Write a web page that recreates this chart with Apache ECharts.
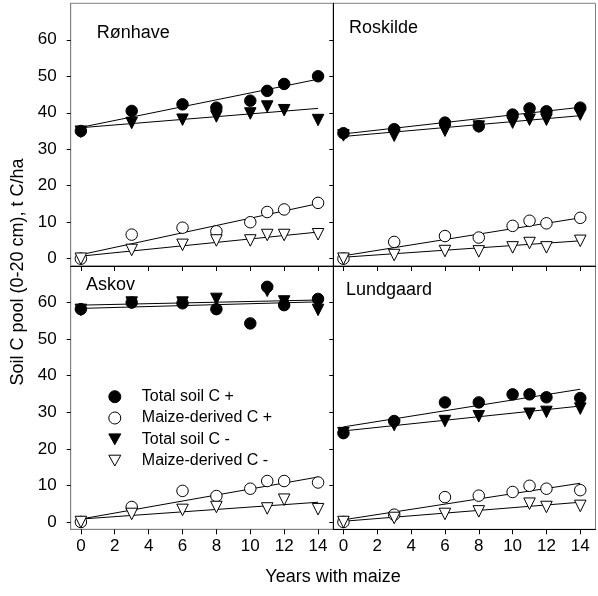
<!DOCTYPE html>
<html>
<head>
<meta charset="utf-8">
<script src="https://cdn.jsdelivr.net/npm/echarts@6/dist/echarts.min.js"></script>
<style>html,body{margin:0;padding:0;background:#fff}#c{width:598px;height:596px}</style>
</head>
<body>
<div id="c"></div>
<script>
// ---- data ----
const years = [0, 3, 6, 8, 10, 11, 12, 14];
const trendYears = [0, 14];
const xTicks = [0, 2, 4, 6, 8, 10, 12, 14];
const yTicks = [0, 10, 20, 30, 40, 50, 60];
const seriesNames = ['Total soil C +', 'Maize-derived C +', 'Total soil C -', 'Maize-derived C -'];
const panelNames = ['Rønhave', 'Roskilde', 'Askov', 'Lundgaard'];

const ronTotalPlus  = [35.0, 40.5, 42.3, 41.4, 43.3, 46.0, 47.9, 50.0];
const ronMaizePlus  = [0.0, 6.6, 8.5, 7.5, 10.0, 12.8, 13.5, 15.3];
const ronTotalMinus = [34.8, 37.2, 38.1, 39.0, 39.8, 41.7, 40.7, 38.0];
const ronMaizeMinus = [0.0, 2.4, 3.8, 5.0, 5.0, 6.5, 6.5, 6.7];
const ronTrendTotalPlus  = [36.0, 49.2];
const ronTrendMaizePlus  = [1.1, 15.1];
const ronTrendTotalMinus = [35.9, 41.2];
const ronTrendMaizeMinus = [0.7, 7.3];

const rosTotalPlus  = [34.4, 35.5, 37.3, 36.3, 39.5, 41.2, 40.4, 41.4];
const rosMaizePlus  = [0.0, 4.6, 6.2, 5.8, 9.0, 10.4, 9.7, 11.2];
const rosTotalMinus = [33.8, 33.7, 35.1, 36.2, 37.3, 38.1, 38.1, 39.5];
const rosMaizeMinus = [0.0, 1.0, 2.1, 2.0, 3.1, 4.3, 3.1, 4.9];
const rosTrendTotalPlus  = [34.2, 41.5];
const rosTrendMaizePlus  = [0.8, 11.2];
const rosTrendTotalMinus = [33.5, 39.2];
const rosTrendMaizeMinus = [0.4, 4.9];

const askTotalPlus  = [58.2, 60.0, 59.8, 58.2, 54.3, 64.3, 59.3, 61.0];
const askMaizePlus  = [0.0, 4.1, 8.5, 7.1, 9.1, 11.2, 11.2, 10.8];
const askTotalMinus = [58.0, 60.0, 60.0, 61.0, null, 63.2, 60.3, 58.0];
const askMaizeMinus = [0.0, 2.2, 3.3, 4.1, null, 3.7, 6.1, 3.5];
const askTrendTotalPlus  = [58.4, 60.2];
const askTrendMaizePlus  = [0.8, 12.3];
const askTrendTotalMinus = [59.3, 60.7];
const askTrendMaizeMinus = [0.8, 5.4];

const lunTotalPlus  = [24.3, 27.6, 32.7, 32.7, 34.9, 34.9, 34.1, 33.9];
const lunMaizePlus  = [0.0, 2.0, 6.8, 7.2, 8.2, 9.9, 9.1, 8.7];
const lunTotalMinus = [24.3, 26.5, 27.6, 28.9, null, 29.6, 30.1, 31.0];
const lunMaizeMinus = [0.0, 1.1, 2.2, 2.9, null, 5.0, 4.1, 4.4];
const lunTrendTotalPlus  = [26.0, 36.3];
const lunTrendMaizePlus  = [0.6, 10.6];
const lunTrendTotalMinus = [24.9, 31.7];
const lunTrendMaizeMinus = [0.2, 5.4];

const panels = [
  { pts: [ronTotalPlus, ronMaizePlus, ronTotalMinus, ronMaizeMinus],
    trends: [ronTrendTotalPlus, ronTrendMaizePlus, ronTrendTotalMinus, ronTrendMaizeMinus] },
  { pts: [rosTotalPlus, rosMaizePlus, rosTotalMinus, rosMaizeMinus],
    trends: [rosTrendTotalPlus, rosTrendMaizePlus, rosTrendTotalMinus, rosTrendMaizeMinus] },
  { pts: [askTotalPlus, askMaizePlus, askTotalMinus, askMaizeMinus],
    trends: [askTrendTotalPlus, askTrendMaizePlus, askTrendTotalMinus, askTrendMaizeMinus] },
  { pts: [lunTotalPlus, lunMaizePlus, lunTotalMinus, lunMaizeMinus],
    trends: [lunTrendTotalPlus, lunTrendMaizePlus, lunTrendTotalMinus, lunTrendMaizeMinus] }
];

// ---- layout ----
const FONT = "'Liberation Sans', Arial, sans-serif";
const L1 = 70.7, L2 = 333.3, R = 595.5, T1 = 3.3, T2 = 266, B = 529.3;
const grids = [
  { left: L1, top: T1, width: L2 - L1, height: T2 - T1 },
  { left: L2, top: T1, width: R - L2, height: T2 - T1 },
  { left: L1, top: T2, width: L2 - L1, height: B - T2 },
  { left: L2, top: T2, width: R - L2, height: B - T2 }
].map(g => Object.assign(g, { show: true, borderColor: '#808080', borderWidth: 1, containLabel: false }));

const xAxes = [], yAxes = [];
for (let i = 0; i < 4; i++) {
  const isBottom = i >= 2, isLeft = i % 2 === 0;
  xAxes.push({
    type: 'value', gridIndex: i, min: -0.6, max: 14.9,
    axisLine: { show: true, onZero: false, lineStyle: { color: (i === 2) ? '#808080' : '#000', width: 1 } },
    axisTick: { show: true, customValues: xTicks, length: 5, inside: false, lineStyle: { color: '#000' } },
    axisLabel: { show: isBottom, customValues: xTicks, color: '#000', fontSize: 17, fontFamily: FONT, margin: 9 },
    splitLine: { show: false }
  });
  yAxes.push({
    type: 'value', gridIndex: i, min: -2, max: 70,
    axisLine: { show: true, onZero: false, lineStyle: { color: isLeft ? '#808080' : '#000', width: 1 } },
    axisTick: { show: true, customValues: yTicks, length: 4, inside: false, lineStyle: { color: '#000' } },
    axisLabel: { show: isLeft, customValues: yTicks, color: '#000', fontSize: 17, fontFamily: FONT, margin: 14 },
    splitLine: { show: false }
  });
}

const DOWN_TRI = 'path://M0,0 L10,0 L5,9 Z';
const styles = [
  { symbol: 'circle', rotate: 0, fill: '#000', z: 4, icon: 'circle' },
  { symbol: 'circle', rotate: 0, fill: '#fff', z: 5, icon: 'circle' },
  { symbol: 'triangle', rotate: 180, fill: '#000', z: 3, icon: DOWN_TRI },
  { symbol: 'triangle', rotate: 180, fill: '#fff', z: 6, icon: DOWN_TRI }
];

const series = [];
panels.forEach((p, i) => {
  p.trends.forEach((t, k) => {
    series.push({
      type: 'line', name: 'trend', xAxisIndex: i, yAxisIndex: i,
      data: trendYears.map((x, j) => [x, t[j]]),
      showSymbol: false, symbol: 'none', silent: true, z: 2,
      lineStyle: { color: '#000', width: 1 }
    });
  });
  [2, 0, 1, 3].forEach(k => {
    const st = styles[k];
    const vals = p.pts[k];
    const data = [];
    years.forEach((x, j) => { if (vals[j] !== null) data.push([x, vals[j]]); });
    series.push({
      type: 'scatter', name: seriesNames[k], xAxisIndex: i, yAxisIndex: i,
      data: data, symbol: st.symbol, symbolRotate: st.rotate, symbolSize: 11.5,
      z: st.z,
      itemStyle: { color: st.fill, borderColor: '#000', borderWidth: 1, opacity: 1 }
    });
  });
});

const titlePos = [[96.7, 32.7], [349, 28], [86, 285], [346, 290]];
const graphics = panelNames.map((n, i) => ({
  type: 'text', x: titlePos[i][0], y: titlePos[i][1], z: 10,
  style: { text: n, fill: '#000', fontSize: 18, fontFamily: FONT, align: 'left', verticalAlign: 'middle' }
}));
graphics.push({
  type: 'text', x: 333, y: 577, z: 10,
  style: { text: 'Years with maize', fill: '#000', fontSize: 18, fontFamily: FONT, align: 'center', verticalAlign: 'middle' }
});
graphics.push({
  type: 'text', x: 18, y: 272, rotation: Math.PI / 2, z: 10,
  style: { text: 'Soil C pool (0-20 cm), t C/ha', fill: '#000', fontSize: 18, fontFamily: FONT, align: 'center', verticalAlign: 'middle' }
});

const chart = echarts.init(document.getElementById('c'), null, { renderer: 'canvas' });
chart.setOption({
  animation: false,
  backgroundColor: '#fff',
  grid: grids,
  xAxis: xAxes,
  yAxis: yAxes,
  legend: {
    data: seriesNames.map((n, k) => ({
      name: n, icon: styles[k].icon,
      itemStyle: { color: styles[k].fill, borderColor: '#000', borderWidth: 1 }
    })),
    orient: 'vertical', left: 108.3, top: 388.7, padding: 0,
    itemWidth: 12, itemHeight: 12, itemGap: 5.3,
    selectedMode: false,
    textStyle: { color: '#000', fontSize: 16, fontFamily: FONT, lineHeight: 16, padding: [0, 0, 0, 16] }
  },
  graphic: graphics,
  series: series
});
</script>
</body>
</html>
